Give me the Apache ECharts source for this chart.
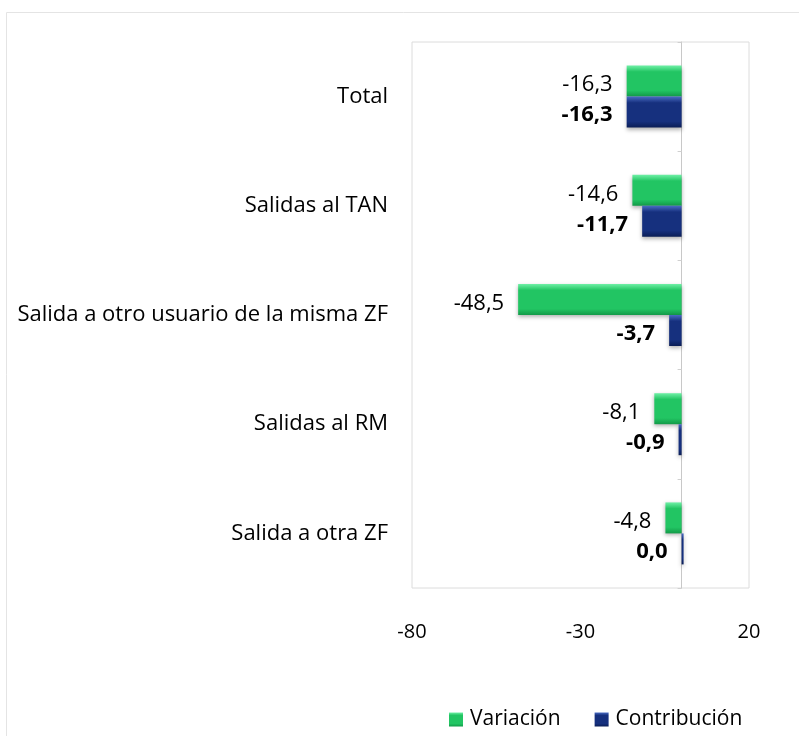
<!DOCTYPE html>
<html>
<head>
<meta charset="utf-8">
<script src="https://cdn.jsdelivr.net/npm/echarts@6/dist/echarts.min.js"></script>
<style>
  html, body { margin: 0; padding: 0; background: #fff; }
  #chart { width: 799px; height: 736px; }
</style>
</head>
<body>
<div id="chart"></div>
<script>
// datos del gráfico
const categorias = ['Total', 'Salidas al TAN', 'Salida a otro usuario de la misma ZF', 'Salidas al RM', 'Salida a otra ZF'];
const variacion = [-16.3, -14.6, -48.5, -8.1, -4.8];
const contribucion = [-16.3, -11.7, -3.7, -0.9, 0.0];
const ticksX = [-80, -30, 20];

const fuente = '"Open Sans", "Noto Sans", sans-serif';

function coma(v) {
  return v.toFixed(1).replace('.', ',');
}

// degradado vertical para simular el bisel
function bisel(claro, medio, oscuro) {
  return new echarts.graphic.LinearGradient(0, 0, 0, 1, [
    { offset: 0, color: claro },
    { offset: 0.2, color: medio },
    { offset: 0.8, color: medio },
    { offset: 1, color: oscuro }
  ]);
}

const chart = echarts.init(document.getElementById('chart'), null, { renderer: 'canvas' });

const option = {
  animation: false,
  backgroundColor: '#ffffff',
  graphic: [
    {
      type: 'rect',
      shape: { x: 6.5, y: 12.5, width: 820, height: 760 },
      style: { fill: 'none', stroke: '#e4e4e4', lineWidth: 1 },
      silent: true
    }
  ],
  grid: {
    left: 412,
    right: 50,
    top: 42,
    bottom: 148,
    show: true,
    borderColor: '#dcdcdc',
    borderWidth: 1
  },
  legend: {
    data: ['Variación', 'Contribución'],
    top: 704,
    left: 444,
    itemWidth: 14,
    itemHeight: 14,
    itemGap: 34,
    icon: 'rect',
    textStyle: { fontFamily: fuente, fontSize: 21, color: '#000', padding: [0, 0, 0, 2] }
  },
  xAxis: {
    type: 'value',
    min: ticksX[0],
    max: ticksX[ticksX.length - 1],
    interval: ticksX[1] - ticksX[0],
    axisLine: { show: false },
    axisTick: { show: false },
    splitLine: { show: false },
    axisLabel: {
      margin: 34,
      fontFamily: fuente,
      fontSize: 20,
      color: '#000'
    }
  },
  yAxis: {
    type: 'category',
    data: categorias,
    inverse: true,
    axisLine: { show: true, onZero: true, lineStyle: { color: '#c8c8c8', width: 1 } },
    axisTick: { show: true, length: 4, inside: false, lineStyle: { color: '#d0d0d0' } },
    axisLabel: {
      inside: false,
      margin: 24,
      fontFamily: fuente,
      fontSize: 22,
      color: '#000'
    },
    splitLine: { show: false }
  },
  series: [
    {
      name: 'Variación',
      type: 'bar',
      data: variacion,
      barWidth: 31,
      barGap: '0%',
      itemStyle: {
        color: bisel('#6ff0a6', '#22c563', '#129a48'),
        shadowBlur: 4,
        shadowColor: 'rgba(0,0,0,0.3)',
        shadowOffsetY: 2
      },
      label: {
        show: true,
        position: 'left',
        distance: 14,
        offset: [0, 4],
        fontFamily: fuente,
        fontSize: 22,
        color: '#000',
        formatter: p => coma(p.value)
      }
    },
    {
      name: 'Contribución',
      type: 'bar',
      data: contribucion,
      barWidth: 31,
      barGap: '0%',
      barMinHeight: 2,
      itemStyle: {
        color: bisel('#4a6cc4', '#16307e', '#0a1d55'),
        shadowBlur: 4,
        shadowColor: 'rgba(0,0,0,0.3)',
        shadowOffsetY: 2
      },
      label: {
        show: true,
        position: 'left',
        distance: 14,
        offset: [0, 3],
        fontFamily: fuente,
        fontSize: 22,
        fontWeight: 'bold',
        color: '#000',
        formatter: p => coma(p.value)
      }
    }
  ]
};

chart.setOption(option);
</script>
</body>
</html>
